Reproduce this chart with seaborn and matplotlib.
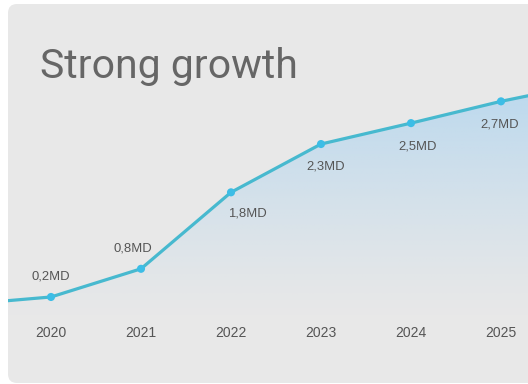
import numpy as np
import pandas as pd
import matplotlib
matplotlib.use("Agg")
import matplotlib.pyplot as plt
from matplotlib.patches import FancyBboxPatch
from matplotlib.transforms import IdentityTransform
import seaborn as sns

# --- data -------------------------------------------------------------
years = [2020, 2021, 2022, 2023, 2024, 2025]
revenue = [0.2, 0.8, 1.8, 2.3, 2.5, 2.7]          # billions (MD)
value_labels = ["0,2MD", "0,8MD", "1,8MD", "2,3MD", "2,5MD", "2,7MD"]
tick_labels = ["2020", "2021", "2022", "2023", "2024", "2025"]

# trend line also runs out to both edges of the card
trend_years = [2019.48, 2020, 2021, 2022, 2023, 2024, 2025, 2025.3]
trend_values = [0.0, 0.2, 0.8, 1.8, 2.3, 2.5, 2.7, 2.75]

# label offsets (points): first two sit above their point, the rest below
label_dx = [-0.4, -5.8, 11.5, 3.2, 4.7, -0.7]
label_dy = [15.0, 14.5, -15.0, -16.0, -16.5, -16.5]

title = "Strong growth"

# --- style ------------------------------------------------------------
sns.set_theme(style="white")
plt.rcParams["font.family"] = ["Liberation Sans", "DejaVu Sans"]

W, H, DPI = 528, 384, 100
fig = plt.figure(figsize=(W / DPI, H / DPI), dpi=DPI)
fig.patch.set_facecolor("white")

# rounded grey card behind everything (pixel coordinates)
card = FancyBboxPatch((8 + 9, 1 + 9), 560, 379 - 18,
                      boxstyle="round,pad=9", transform=IdentityTransform(),
                      facecolor="#e8e8e8", edgecolor="none", zorder=-5)
fig.patches.append(card)

AX_LEFT = 8
ax = fig.add_axes([AX_LEFT / W, (H - 318) / H, (W - AX_LEFT) / W, 318 / H])
ax.set_facecolor("none")
ax.set_zorder(1)

# power scale so growth at the top end reads stronger
fwd = lambda v: np.sign(v) * np.abs(v) ** 1.5
inv = lambda t: np.sign(t) * np.abs(t) ** (2.0 / 3.0)
ax.set_yscale("function", functions=(fwd, inv))
XLIM = (2020 - (51 - AX_LEFT) / 90, 2020 + 477 / 90)
YLIM = (-0.5226, 3.55)
ax.set_xlim(*XLIM)
ax.set_ylim(*YLIM)

line_color = "#47b9cf"
dot_color = "#3cbde6"

trend = pd.DataFrame({"year": trend_years, "value": trend_values})
points = pd.DataFrame({"year": years, "value": revenue})

# gradient area under the line
fill = ax.fill_between(trend["year"], trend["value"], YLIM[0],
                       facecolor="none", edgecolor="none")
grad = np.zeros((256, 2, 4))
grad[..., :3] = np.array([188, 217, 238]) / 255
grad[..., 3] = np.linspace(0.0, 1.0, 256)[:, None] ** 1.2
img = ax.imshow(grad, extent=[0, 1, 0, 0.72], transform=ax.transAxes,
                aspect="auto", origin="lower", zorder=1, interpolation="bilinear")
img.set_clip_path(fill.get_paths()[0], ax.transData)
ax.set_xlim(*XLIM)
ax.set_ylim(*YLIM)

sns.lineplot(data=trend, x="year", y="value", ax=ax, color=line_color,
             linewidth=2.3, zorder=3)
sns.scatterplot(data=points, x="year", y="value", ax=ax, color=dot_color,
                s=34, edgecolor="none", zorder=4)

for x, y, lab, dx, dy in zip(years, revenue, value_labels, label_dx, label_dy):
    ax.annotate(lab, (x, y), xytext=(dx, dy), textcoords="offset points",
                ha="center", va="center", fontsize=9.4, color="#555555",
                zorder=5)

ax.set_xticks(years)
ax.set_xticklabels(tick_labels, fontsize=10, color="#555555")
ax.tick_params(axis="x", length=0, pad=6)
ax.set_yticks([])
ax.yaxis.set_minor_locator(matplotlib.ticker.NullLocator())
ax.set_xlabel("")
ax.set_ylabel("")
for s in ax.spines.values():
    s.set_visible(False)

fig.text(40 / W, (H - 78) / H, title, fontsize=29.5, color="#666666",
         family=["Roboto", "Liberation Sans", "DejaVu Sans"], fontweight="normal",
         ha="left", va="baseline")

fig.savefig("out.png", dpi=DPI)
